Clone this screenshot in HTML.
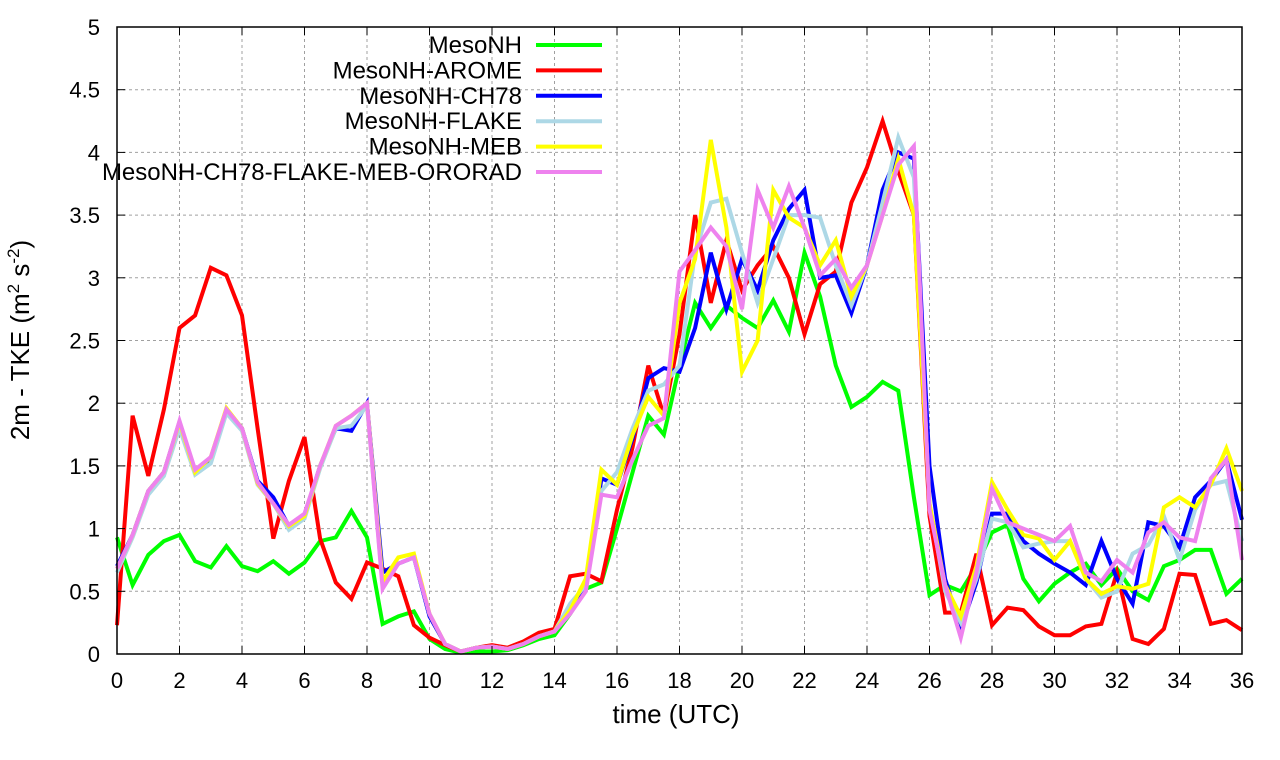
<!DOCTYPE html>
<html><head><meta charset="utf-8"><style>
body{margin:0;background:#fff;}
svg{display:block;font-family:"Liberation Sans",sans-serif;}
</style></head><body>
<svg id="chart" width="1280" height="760">
<g id="grid"></g>
<g id="series"></g>
<g id="axes"></g>
<g id="legend"></g>
<text x="676" y="723" text-anchor="middle" font-size="26">time (UTC)</text>
<text transform="translate(29,340) rotate(-90)" text-anchor="middle" font-size="26">2m - TKE (m<tspan font-size="17" dy="-10">2</tspan><tspan dy="10"> s</tspan><tspan font-size="17" dy="-10">-2</tspan><tspan dy="10">)</tspan></text>
</svg>
<script>
const xTicks=[0,2,4,6,8,10,12,14,16,18,20,22,24,26,28,30,32,34,36];
const yTicks=[0,0.5,1,1.5,2,2.5,3,3.5,4,4.5,5];
const yTickLabels=["0","0.5","1","1.5","2","2.5","3","3.5","4","4.5","5"];
const seriesNames=["MesoNH","MesoNH-AROME","MesoNH-CH78","MesoNH-FLAKE","MesoNH-MEB","MesoNH-CH78-FLAKE-MEB-ORORAD"];
const seriesColors=["#00ff00","#ff0000","#0000ff","#add8e6","#ffff00","#ee82ee"];
const mesonh=[0.93,0.55,0.79,0.9,0.95,0.74,0.69,0.86,0.7,0.66,0.74,0.64,0.73,0.9,0.93,1.14,0.93,0.24,0.3,0.34,0.12,0.04,0.01,0.02,0.02,0.03,0.07,0.12,0.15,0.32,0.52,0.57,1.0,1.45,1.9,1.75,2.3,2.8,2.6,2.78,2.68,2.6,2.82,2.57,3.2,2.85,2.3,1.97,2.05,2.17,2.1,1.25,0.47,0.55,0.5,0.7,0.97,1.03,0.6,0.42,0.56,0.65,0.72,0.55,0.68,0.5,0.43,0.7,0.75,0.83,0.83,0.48,0.6];
const arome=[0.23,1.9,1.42,1.95,2.6,2.7,3.08,3.02,2.7,1.8,0.92,1.38,1.73,0.92,0.57,0.44,0.73,0.68,0.62,0.23,0.13,0.07,0.02,0.05,0.07,0.05,0.1,0.17,0.2,0.62,0.64,0.58,1.15,1.65,2.3,1.9,2.55,3.5,2.8,3.3,2.9,3.1,3.25,3.0,2.55,2.95,3.05,3.6,3.88,4.25,3.85,3.5,1.1,0.33,0.33,0.8,0.23,0.37,0.35,0.22,0.15,0.15,0.22,0.24,0.65,0.12,0.08,0.2,0.64,0.63,0.24,0.27,0.19];
const ch78=[0.7,0.95,1.3,1.45,1.85,1.45,1.55,1.95,1.8,1.38,1.25,1.02,1.1,1.5,1.8,1.78,2.0,0.65,0.72,0.77,0.3,0.08,0.02,0.05,0.06,0.04,0.08,0.14,0.18,0.35,0.52,1.4,1.35,1.72,2.2,2.28,2.25,2.6,3.2,2.75,3.15,2.9,3.3,3.55,3.7,3.0,3.02,2.72,3.1,3.7,4.0,3.95,1.5,0.6,0.2,0.57,1.12,1.12,0.9,0.8,0.72,0.65,0.55,0.9,0.6,0.4,1.05,1.02,0.85,1.25,1.38,1.55,1.07];
const flake=[0.65,0.93,1.27,1.42,1.8,1.43,1.52,1.92,1.78,1.35,1.2,0.99,1.08,1.48,1.8,1.82,1.98,0.55,0.72,0.77,0.32,0.08,0.02,0.05,0.06,0.04,0.08,0.14,0.18,0.4,0.55,1.3,1.45,1.8,2.1,2.15,2.3,3.2,3.6,3.63,3.2,2.8,3.15,3.5,3.5,3.48,3.1,2.78,3.1,3.6,4.12,3.8,1.2,0.5,0.25,0.6,1.08,1.05,0.85,0.88,0.9,0.9,0.6,0.45,0.5,0.8,0.87,1.1,0.75,1.15,1.35,1.38,0.9];
const meb=[0.68,0.95,1.3,1.45,1.85,1.45,1.57,1.96,1.8,1.36,1.2,1.02,1.1,1.5,1.82,1.9,2.0,0.58,0.77,0.8,0.32,0.08,0.02,0.05,0.06,0.04,0.08,0.14,0.18,0.35,0.6,1.47,1.35,1.75,2.05,1.9,2.8,3.15,4.1,3.4,2.25,2.5,3.7,3.48,3.4,3.1,3.3,2.85,3.1,3.5,3.95,3.5,1.2,0.55,0.3,0.7,1.37,1.15,0.95,0.92,0.75,0.9,0.6,0.48,0.54,0.52,0.56,1.17,1.25,1.17,1.35,1.64,1.3];
const ororad=[0.68,0.95,1.3,1.45,1.86,1.47,1.57,1.95,1.8,1.37,1.2,1.03,1.12,1.5,1.82,1.9,2.0,0.52,0.72,0.77,0.32,0.08,0.02,0.05,0.06,0.04,0.08,0.14,0.18,0.32,0.5,1.27,1.25,1.55,1.82,1.88,3.05,3.22,3.4,3.25,2.75,3.7,3.4,3.73,3.4,3.02,3.15,2.92,3.1,3.5,3.9,4.05,1.15,0.55,0.13,0.65,1.32,1.05,1.0,0.95,0.9,1.02,0.65,0.58,0.75,0.65,0.97,1.05,0.93,0.9,1.4,1.55,0.75];
const allSeries=[mesonh,arome,ch78,flake,meb,ororad];
const X0=117,X1=1242,Y0=654,Y1=27;
const xs=t=>X0+(t/36)*(X1-X0);
const ys=v=>Y0-(v/5)*(Y0-Y1);
const NS="http://www.w3.org/2000/svg";
function mk(tag,attrs,parent){const e=document.createElementNS(NS,tag);for(const k in attrs)e.setAttribute(k,attrs[k]);parent.appendChild(e);return e;}
const grid=document.getElementById('grid'),axes=document.getElementById('axes'),ser=document.getElementById('series'),leg=document.getElementById('legend');
xTicks.forEach(t=>{
  if(t>0&&t<36){const l=mk('line',{x1:xs(t),x2:xs(t),y1:Y1,y2:Y0,stroke:'#a0a0a0','stroke-dasharray':'3,3','stroke-width':1},grid);
  
  }
  mk('line',{x1:xs(t),x2:xs(t),y1:Y0,y2:Y0-8,stroke:'#000'},axes);
  mk('line',{x1:xs(t),x2:xs(t),y1:Y1,y2:Y1+8,stroke:'#000'},axes);
  const tx=mk('text',{x:xs(t),y:Y0+34,'text-anchor':'middle','font-size':22},axes);
  tx.textContent=t;
  
  
});
yTicks.forEach((v,i)=>{
  if(v>0&&v<5){const l=mk('line',{x1:X0,x2:X1,y1:ys(v),y2:ys(v),stroke:'#a0a0a0','stroke-dasharray':'3,3','stroke-width':1},grid);
  
  }
  mk('line',{x1:X0,x2:X0+8,y1:ys(v),y2:ys(v),stroke:'#000'},axes);
  mk('line',{x1:X1,x2:X1-8,y1:ys(v),y2:ys(v),stroke:'#000'},axes);
  const tx=mk('text',{x:X0-17,y:ys(v)+8,'text-anchor':'end','font-size':22},axes);
  tx.textContent=yTickLabels[i];
  
  
});
const fr=mk('rect',{x:X0,y:Y1,width:X1-X0,height:Y0-Y1,fill:'none',stroke:'#000','stroke-width':1.5},axes);


allSeries.forEach((d,si)=>{
  const pts=d.map((v,i)=>xs(i*0.5).toFixed(1)+','+ys(v).toFixed(1)).join(' ');
  const p=mk('polyline',{points:pts,fill:'none',stroke:seriesColors[si],'stroke-width':4,'stroke-linejoin':'miter'},ser);
  
  
  const ly=45+si*25.4;
  const lt=mk('text',{x:522,y:ly+8,'text-anchor':'end','font-size':24},leg);
  lt.textContent=seriesNames[si];
  
  
  const ll=mk('line',{x1:536,x2:602,y1:ly,y2:ly,stroke:seriesColors[si],'stroke-width':4},leg);
  
  
});
</script>
</body></html>
